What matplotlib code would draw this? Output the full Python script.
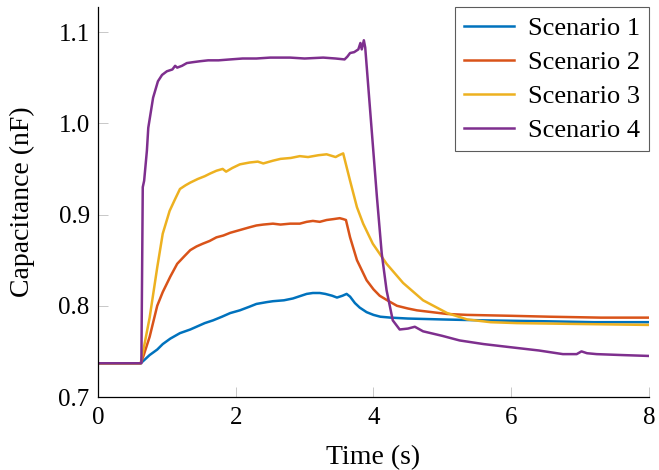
import matplotlib
matplotlib.use("Agg")
import matplotlib.pyplot as plt

# values
t1 = [0, 0.62, 0.65, 0.75, 0.86, 0.94, 1.05, 1.19, 1.34, 1.43, 1.55, 1.67, 1.8, 1.92,
      2.06, 2.2, 2.3, 2.45, 2.54, 2.7, 2.83, 2.95, 3.03, 3.12, 3.22, 3.3, 3.4, 3.47,
      3.55, 3.61, 3.66, 3.73, 3.8, 3.9, 4.0, 4.1, 4.25, 4.5, 5.0, 5.6, 6.5, 7.2, 8.0]
c1 = [0.737, 0.737, 0.739, 0.746, 0.752, 0.758, 0.764, 0.770, 0.774, 0.777, 0.781,
      0.784, 0.788, 0.792, 0.795, 0.799, 0.802, 0.804, 0.805, 0.806, 0.808, 0.811,
      0.813, 0.814, 0.814, 0.813, 0.811, 0.809, 0.811, 0.813, 0.810, 0.803, 0.798,
      0.793, 0.790, 0.788, 0.787, 0.786, 0.785, 0.784, 0.783, 0.782, 0.782]

t2 = [0, 0.62, 0.66, 0.75, 0.86, 0.94, 1.05, 1.15, 1.25, 1.34, 1.43, 1.52, 1.62, 1.72,
      1.82, 1.92, 2.06, 2.2, 2.3, 2.4, 2.54, 2.65, 2.79, 2.93, 3.03, 3.12, 3.22, 3.32,
      3.42, 3.51, 3.56, 3.6, 3.66, 3.76, 3.9, 4.0, 4.09, 4.2, 4.34, 4.5, 4.63, 4.85,
      5.07, 5.36, 6.0, 6.56, 7.3, 8.0]
c2 = [0.737, 0.737, 0.745, 0.766, 0.800, 0.815, 0.832, 0.846, 0.854, 0.861, 0.865,
      0.868, 0.871, 0.875, 0.877, 0.880, 0.883, 0.886, 0.888, 0.889, 0.890, 0.889,
      0.890, 0.890, 0.892, 0.893, 0.892, 0.894, 0.895, 0.896, 0.895, 0.894, 0.875,
      0.850, 0.828, 0.818, 0.811, 0.806, 0.800, 0.797, 0.795, 0.793, 0.791, 0.790,
      0.789, 0.788, 0.787, 0.787]

t3 = [0, 0.62, 0.66, 0.75, 0.86, 0.94, 1.04, 1.12, 1.19, 1.27, 1.34, 1.45, 1.55, 1.63,
      1.72, 1.81, 1.86, 1.95, 2.06, 2.2, 2.32, 2.4, 2.54, 2.65, 2.8, 2.93, 3.05, 3.2,
      3.32, 3.45, 3.5, 3.56, 3.66, 3.76, 3.85, 3.99, 4.19, 4.43, 4.72, 5.07, 5.36,
      5.7, 6.08, 7.0, 8.0]
c3 = [0.737, 0.737, 0.752, 0.787, 0.842, 0.879, 0.904, 0.917, 0.928, 0.932, 0.935,
      0.939, 0.942, 0.945, 0.948, 0.950, 0.947, 0.951, 0.955, 0.957, 0.958, 0.956,
      0.959, 0.961, 0.962, 0.964, 0.963, 0.965, 0.966, 0.963, 0.965, 0.967, 0.937,
      0.908, 0.890, 0.868, 0.846, 0.825, 0.806, 0.792, 0.785, 0.782, 0.781, 0.780,
      0.779]

t4 = [0, 0.63, 0.65, 0.67, 0.71, 0.73, 0.8, 0.87, 0.93, 1.0, 1.08, 1.12, 1.15, 1.22,
      1.29, 1.38, 1.48, 1.6, 1.75, 1.92, 2.1, 2.3, 2.5, 2.79, 3.0, 3.27, 3.45, 3.58,
      3.62, 3.66, 3.72, 3.78, 3.81, 3.83, 3.86, 3.88, 4.05, 4.12, 4.19, 4.28, 4.38,
      4.5, 4.6, 4.72, 5.0, 5.25, 5.6, 5.94, 6.4, 6.75, 6.95, 7.02, 7.1, 7.24, 7.6, 8.0]
c4 = [0.737, 0.737, 0.930, 0.937, 0.970, 0.995, 1.028, 1.046, 1.053, 1.057, 1.059,
      1.063, 1.061, 1.063, 1.066, 1.067, 1.068, 1.069, 1.069, 1.070, 1.071, 1.071,
      1.072, 1.072, 1.071, 1.072, 1.071, 1.070, 1.073, 1.077, 1.078, 1.081, 1.088,
      1.081, 1.091, 1.083, 0.919, 0.857, 0.817, 0.784, 0.774, 0.775, 0.777, 0.772,
      0.767, 0.762, 0.758, 0.755, 0.751, 0.747, 0.747, 0.750, 0.748, 0.747, 0.746,
      0.745]

labels = ["Scenario 1", "Scenario 2", "Scenario 3", "Scenario 4"]
colors = ["#0072BD", "#D95319", "#EDB120", "#7E2F8E"]

plt.rcParams["font.family"] = ["Liberation Serif", "DejaVu Serif"]

fig = plt.figure(figsize=(6.59, 4.70), dpi=100)
ax = fig.add_axes([0.1487, 0.1553, 0.8361, 0.8297])

for t, c, lab, col in zip([t1, t2, t3, t4], [c1, c2, c3, c4], labels, colors):
    ax.plot(t, c, color=col, lw=1.8, label=lab)

ax.set_xlim(0, 8)
ax.set_ylim(0.7, 1.1274)
ax.set_xticks([0, 2, 4, 6, 8])
ax.set_yticks([0.7, 0.8, 0.9, 1.0, 1.1])
ax.set_yticklabels(["0.7", "0.8", "0.9", "1.0", "1.1"])
ax.tick_params(direction="in", length=7, width=0.7, color="#c8c8c8", labelsize=18)
ax.tick_params(axis="x", pad=7)
ax.tick_params(axis="y", pad=6)
for s in ["top", "right"]:
    ax.spines[s].set_visible(False)
for s in ["left", "bottom"]:
    ax.spines[s].set_linewidth(0.9)

ax.set_xlabel("Time (s)", fontsize=20, labelpad=12)
ax.set_ylabel("Capacitance (nF)", fontsize=20, labelpad=17)

leg = ax.legend(loc="upper right", fontsize=19, frameon=True, fancybox=False,
                borderaxespad=0, handlelength=1.9, labelspacing=0.4,
                borderpad=0.35, handletextpad=0.5)
leg.get_frame().set_edgecolor("#333333")
leg.get_frame().set_linewidth(0.8)

fig.savefig("out.png", dpi=100)
